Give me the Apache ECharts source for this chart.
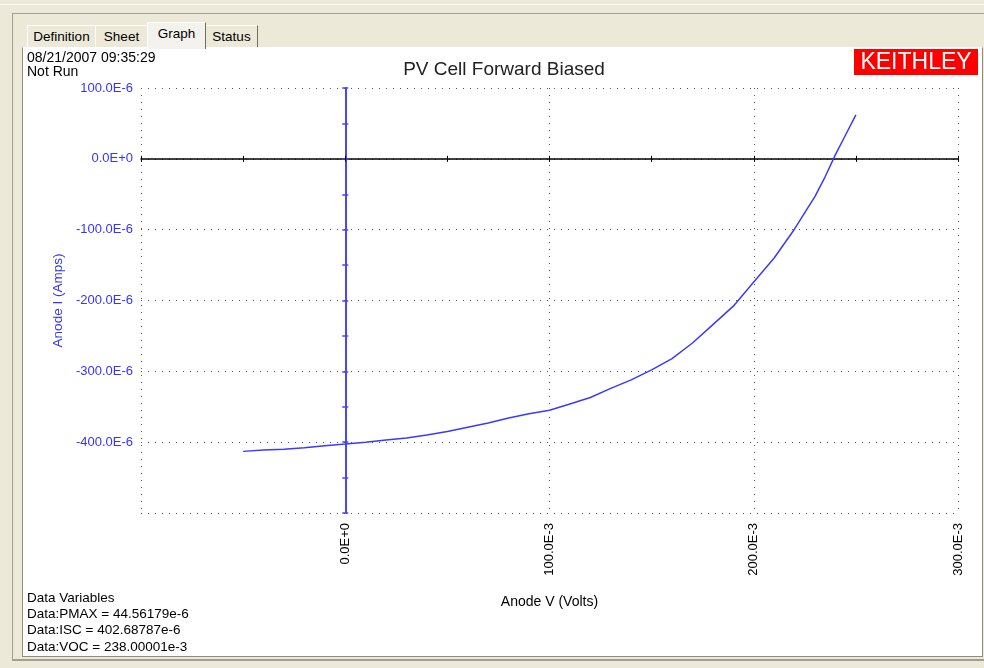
<!DOCTYPE html>
<html lang="en">
<head>
    <meta charset="UTF-8">
    <title>PV Cell Forward Biased</title>
    <script src="https://cdn.jsdelivr.net/npm/echarts@6/dist/echarts.min.js"></script>
    <style>
        body { margin: 0; width: 984px; height: 668px; overflow: hidden; background: #ece9d8;
               font-family: "Liberation Sans", Arial, sans-serif; position: relative; }
        .topline { position: absolute; left: 0; top: 4px; width: 984px; height: 1px; background: #fbfaf5; }
        .frame { position: absolute; left: 12px; top: 13px; width: 975px; height: 645px;
                 border-top: 1px solid #a29f90; border-left: 1px solid #a29f90; border-bottom: 2px solid #a29f90; }
        .panel { position: absolute; left: 22px; top: 47px; width: 959px; height: 608px; background: #fff;
                 border-left: 1px solid #8e8c80; border-top: 1px solid #fff; border-right: 1px solid #8e8c80;
                 border-bottom: 1px solid #8e8c80; }
        .tab { position: absolute; top: 25px; height: 21px; background: #ece9d8; font-size: 13.5px;
               line-height: 21px; text-align: center; color: #000;
               border-top: 1px solid #fff; border-left: 1px solid #fff; border-right: 1px solid #716f64; }
        .tab.sel { top: 22px; height: 26px; line-height: 22px; background: #f3f2ec; z-index: 1; }
        #main { position: absolute; left: 0; top: 0; width: 984px; height: 668px; z-index: 2; }
    </style>
</head>
<body>
<div class="topline"></div>
<div class="frame"></div>
<div class="panel"></div>
<div class="tab" style="left:27px;width:67px;">Definition</div>
<div class="tab" style="left:95px;width:51px;">Sheet</div>
<div class="tab sel" style="left:147px;width:57px;">Graph</div>
<div class="tab" style="left:205px;width:51px;">Status</div>
<div id="main"></div>
<script type="text/javascript">
    // axis ticks (x in mV, y in uA) and the labels shown for them
    var xTicks = [-100, 0, 100, 200, 300];
    var xTickLabels = ['', '0.0E+0', '100.0E-3', '200.0E-3', '300.0E-3'];
    var yTicks = [-500, -400, -300, -200, -100, 0, 100];
    var yTickLabels = ['', '-400.0E-6', '-300.0E-6', '-200.0E-6', '-100.0E-6', '0.0E+0', '100.0E-6'];

    // measured curve: anode V (mV) / anode I (uA)
    var anodeV = [-50, -40, -30, -20, -10, 0, 10, 20, 30, 40, 50, 60, 70, 80, 90, 100, 110, 120,
                  130, 140, 150, 160, 170, 180, 190, 200, 210, 220, 230, 235, 240, 245, 250];
    var anodeI = [-413, -411, -410, -408, -405, -402.7, -400, -397, -394, -390, -385, -379, -373, -366,
                  -360, -355, -346, -337, -324, -312, -298, -282, -260, -234, -208, -174, -140, -99,
                  -53, -25, 6, 34, 62];

    var dataVars = ['Data Variables', 'Data:PMAX = 44.56179e-6', 'Data:ISC = 402.68787e-6',
                    'Data:VOC = 238.00001e-3'];

    var font = '"Liberation Sans", Arial, sans-serif';
    var blue = '#3434ff';

    function lookup(ticks, labels) {
        return function (v) {
            var i = ticks.indexOf(Math.round(v));
            return i < 0 ? '' : labels[i];
        };
    }

    var serData = anodeV.map(function (v, i) { return [v, anodeI[i]]; });

    var myChart = echarts.init(document.getElementById('main'), null, {renderer: 'canvas'});

    var dotted = {color: '#555', width: 1, type: [1, 6]};

    var graphics = [
        {type: 'text', x: 27, y: 58, style: {text: '08/21/2007 09:35:29', font: '14px ' + font, fill: '#000', verticalAlign: 'middle'}},
        {type: 'text', x: 27, y: 72, style: {text: 'Not Run', font: '14px ' + font, fill: '#000', verticalAlign: 'middle'}},
        {type: 'text', x: 504, y: 70, style: {text: 'PV Cell Forward Biased', font: '19px ' + font, fill: '#222', align: 'center', verticalAlign: 'middle'}},
        {type: 'rect', shape: {x: 854, y: 49, width: 124, height: 26}, style: {fill: '#ff0000'}},
        {type: 'text', x: 916, y: 63, style: {text: 'KEITHLEY', font: '23px ' + font, fill: '#fff', align: 'center', verticalAlign: 'middle'}}
    ];
    dataVars.forEach(function (t, i) {
        graphics.push({type: 'text', x: 27, y: 598 + i * 16.3,
            style: {text: t, font: '13.5px ' + font, fill: '#000', verticalAlign: 'middle'}});
    });

    var option = {
        animation: false,
        grid: {left: 141, top: 88, width: 817, height: 425, outerBoundsMode: 'none'},
        graphic: graphics,
        xAxis: [{
            type: 'value', min: -100, max: 300, interval: 100, position: 'bottom',
            axisLine: {show: false, onZero: false}, axisTick: {show: false},
            axisLabel: {rotate: 90, margin: 10, color: '#000', fontSize: 13, fontFamily: font,
                        formatter: lookup(xTicks, xTickLabels)},
            splitLine: {show: true, lineStyle: dotted},
            name: 'Anode V (Volts)', nameLocation: 'middle', nameGap: 82,
            nameTextStyle: {color: '#000', fontSize: 14, fontFamily: font}
        }, {
            type: 'value', min: -100, max: 300, interval: 50, position: 'top',
            axisLine: {show: true, onZero: true, onZeroAxisIndex: 0, lineStyle: {color: '#000', width: 1.5}},
            axisTick: {show: true, length: 3, lineStyle: {color: '#000'}},
            axisLabel: {show: false}, splitLine: {show: false}
        }, {
            type: 'value', min: -100, max: 300, interval: 50, position: 'bottom',
            axisLine: {show: false, onZero: true, onZeroAxisIndex: 0},
            axisTick: {show: true, length: 3, lineStyle: {color: '#000'}},
            axisLabel: {show: false}, splitLine: {show: false}
        }],
        yAxis: [{
            type: 'value', min: -500, max: 100, interval: 100, position: 'left',
            axisLine: {show: false, onZero: false}, axisTick: {show: false},
            axisLabel: {margin: 8, color: blue, fontSize: 13, fontFamily: font,
                        formatter: lookup(yTicks, yTickLabels)},
            splitLine: {show: true, lineStyle: dotted},
            name: 'Anode I (Amps)', nameLocation: 'middle', nameGap: 76,
            nameTextStyle: {color: blue, fontSize: 13.5, fontFamily: font}
        }, {
            type: 'value', min: -500, max: 100, interval: 50, position: 'left',
            axisLine: {show: true, onZero: true, onZeroAxisIndex: 0, lineStyle: {color: '#4646ff', width: 2}},
            axisTick: {show: true, length: 3, lineStyle: {color: '#4646ff', width: 1.5}},
            axisLabel: {show: false}, splitLine: {show: false}
        }, {
            type: 'value', min: -500, max: 100, interval: 50, position: 'right',
            axisLine: {show: false, onZero: true, onZeroAxisIndex: 0},
            axisTick: {show: true, length: 3, lineStyle: {color: '#4646ff', width: 1.5}},
            axisLabel: {show: false}, splitLine: {show: false}
        }],
        series: [{
            name: 'Anode I',
            type: 'line',
            xAxisIndex: 0,
            yAxisIndex: 0,
            showSymbol: false,
            smooth: false,
            lineStyle: {color: '#3a3aff', width: 1.5},
            data: serData,
            z: 5
        }]
    };

    myChart.setOption(option);
</script>
</body>
</html>
